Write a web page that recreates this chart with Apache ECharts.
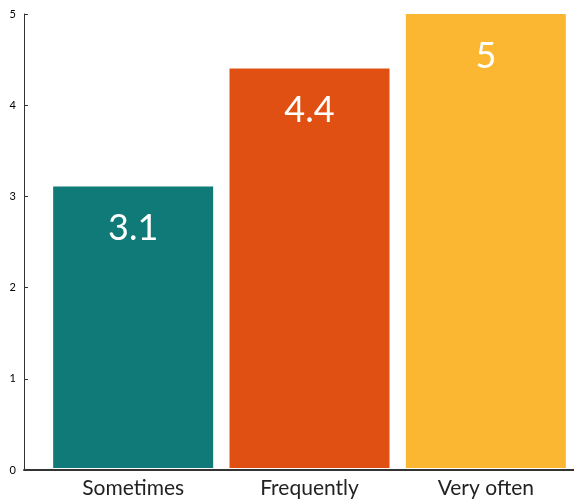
<!DOCTYPE html>
<html><head><meta charset="utf-8">
<script src="https://cdn.jsdelivr.net/npm/echarts@6/dist/echarts.min.js"></script>
<style>html,body{margin:0;padding:0;background:#fff}#c{width:574px;height:499px}</style>
</head><body><div id="c"></div>
<script>
const categories = ['Sometimes', 'Frequently', 'Very often'];
const values = [3.1, 4.4, 5];
const barColors = ['#0f7a78', '#e05012', '#fbb731'];
const yTicks = [0, 1, 2, 3, 4, 5];

const chart = echarts.init(document.getElementById('c'));
chart.setOption({
  animation: false,
  textStyle: { fontFamily: 'Lato' },
  grid: [
    { left: 24, right: 0, top: 14, bottom: 29 },
    { left: 45, right: -2, top: 14, bottom: 29 }
  ],
  xAxis: [
    { gridIndex: 0, type: 'value', min: 0, max: 1, axisLine: { show: true, lineStyle: { color: '#333', width: 2 } },
      axisTick: { show: false }, axisLabel: { show: false }, splitLine: { show: false } },
    { gridIndex: 1, type: 'category', data: categories, axisLine: { show: false }, axisTick: { show: false },
      axisLabel: { color: '#222', fontSize: 21, margin: 10, fontFamily: 'Lato' } }
  ],
  yAxis: [
    { gridIndex: 0, type: 'value', min: 0, max: 5, interval: 1,
      axisLine: { show: true, lineStyle: { color: '#333', width: 1 } },
      axisTick: { show: true, inside: true, length: 4, lineStyle: { color: '#333' } },
      axisLabel: { color: '#000', fontSize: 11, margin: 8, fontFamily: 'Lato',
        formatter: v => yTicks.includes(v) ? String(v) : '' },
      splitLine: { show: false } },
    { gridIndex: 1, type: 'value', min: 0, max: 5, show: false }
  ],
  series: [{
    type: 'bar',
    xAxisIndex: 1, yAxisIndex: 1,
    barWidth: 160,
    data: values.map((v, i) => ({ value: v, itemStyle: { color: barColors[i] } })),
    label: { show: true, position: 'insideTop', distance: 24, color: '#fff', fontSize: 36, fontFamily: 'Lato' }
  }]
});
</script></body></html>
